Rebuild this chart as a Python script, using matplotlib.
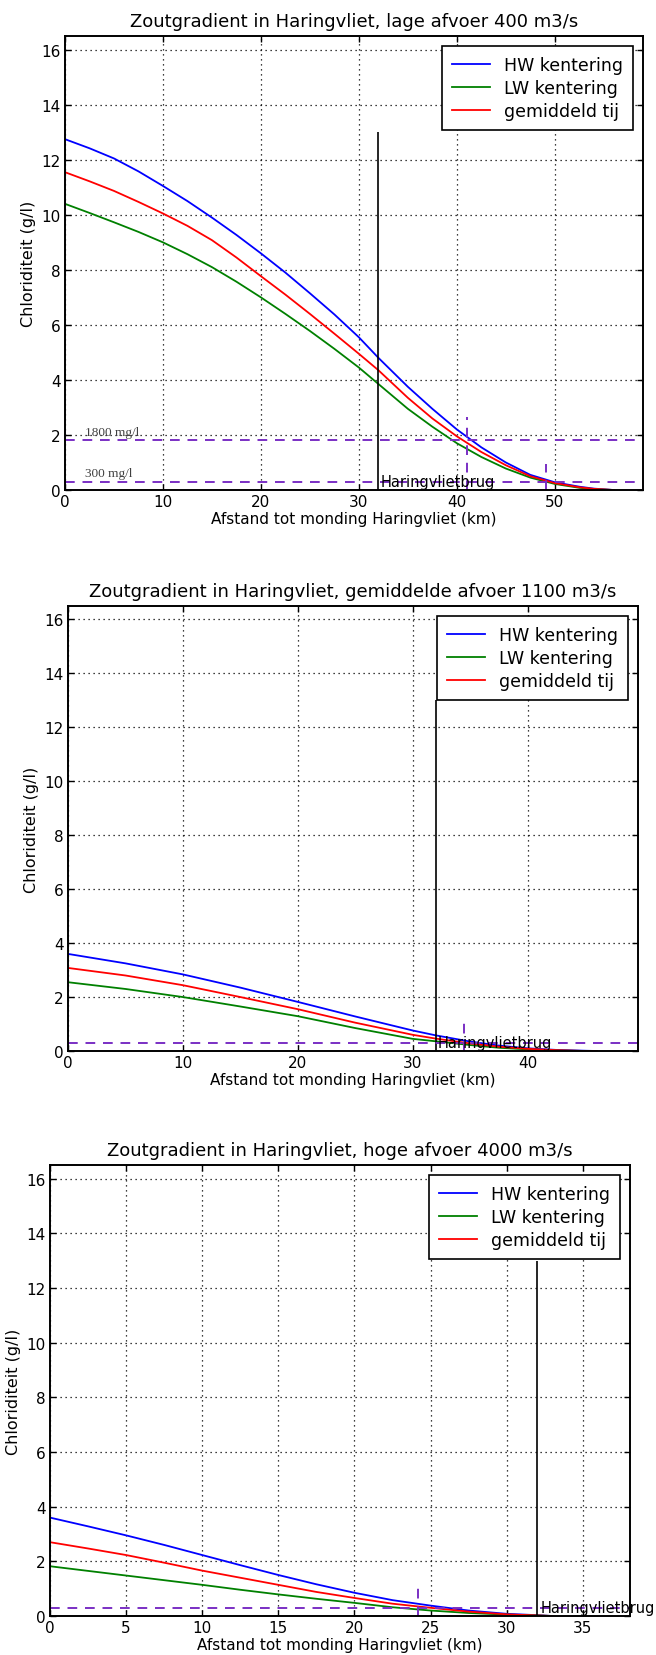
import matplotlib

matplotlib.use("Agg")
import matplotlib.pyplot as plt

# --- data ------------------------------------------------------------------
LABELS = ["HW kentering", "LW kentering", "gemiddeld tij"]
COLORS = ["#0000ff", "#008000", "#ff0000"]

TITLE_LOW = "Zoutgradient in Haringvliet, lage afvoer 400 m3/s"
X_LOW = [0, 2.5, 5, 7.5, 10, 12.5, 15, 17.5, 20, 22.5, 25, 27.5, 30, 32, 35,
         37.5, 40, 42.5, 45, 47.5, 50, 52.5, 54, 56]
HW_LOW = [12.75, 12.42, 12.05, 11.58, 11.05, 10.5, 9.9, 9.27, 8.6, 7.9, 7.15, 6.38,
          5.55, 4.8, 3.75, 2.95, 2.2, 1.55, 1.0, 0.55, 0.28, 0.12, 0.05, 0.0]
LW_LOW = [10.4, 10.07, 9.73, 9.38, 9.0, 8.57, 8.1, 7.57, 7.0, 6.4, 5.78, 5.13,
          4.45, 3.85, 2.95, 2.3, 1.7, 1.2, 0.78, 0.45, 0.22, 0.08, 0.03, 0.0]
GT_LOW = [11.55, 11.22, 10.87, 10.47, 10.05, 9.6, 9.08, 8.45, 7.77, 7.1, 6.4, 5.68,
          4.95, 4.35, 3.35, 2.6, 1.95, 1.38, 0.9, 0.5, 0.25, 0.1, 0.04, 0.0]

TITLE_MID = "Zoutgradient in Haringvliet, gemiddelde afvoer 1100 m3/s"
X_MID = [0, 5, 10, 15, 20, 25, 30, 32, 35, 37.5, 40, 42.5, 45, 46]
HW_MID = [3.6, 3.25, 2.84, 2.35, 1.82, 1.28, 0.76, 0.58, 0.35, 0.2, 0.1, 0.04, 0.01, 0.0]
LW_MID = [2.55, 2.3, 2.0, 1.65, 1.29, 0.85, 0.45, 0.36, 0.22, 0.12, 0.06, 0.02, 0.0, 0.0]
GT_MID = [3.08, 2.8, 2.44, 2.0, 1.55, 1.05, 0.6, 0.46, 0.28, 0.16, 0.08, 0.03, 0.0, 0.0]

TITLE_HIGH = "Zoutgradient in Haringvliet, hoge afvoer 4000 m3/s"
X_HIGH = [0, 2.5, 5, 7.5, 10, 12.5, 15, 17.5, 20, 22.5, 25, 27.5, 30, 32, 33]
HW_HIGH = [3.6, 3.28, 2.95, 2.6, 2.23, 1.86, 1.5, 1.16, 0.85, 0.58, 0.38, 0.2, 0.08, 0.03, 0.0]
LW_HIGH = [1.82, 1.65, 1.48, 1.31, 1.14, 0.96, 0.79, 0.63, 0.48, 0.32, 0.2, 0.11, 0.05, 0.02, 0.0]
GT_HIGH = [2.7, 2.47, 2.23, 1.95, 1.66, 1.4, 1.14, 0.88, 0.66, 0.45, 0.3, 0.16, 0.06, 0.02, 0.0]

BRIDGE_KM = 32.0
BRIDGE_TOP = 13.0
LIMITS_LOW = [1.8, 0.3]          # g/l, dashed purple
LIMIT_LABELS = ["1800 mg/l", "300 mg/l"]
MARKS_LOW = [(41.0, 2.65), (49.1, 0.95)]   # (km, top of short dashed marker)
MARKS_MID = [(34.5, 1.18)]
MARKS_HIGH = [(24.2, 1.14)]
XMAX = [59, 49.6, 38.1]
YMAX = 16.5

PURPLE = "#7a2fc4"
W, H = 656, 1656


def axes_box(left, right, top, bottom):
    return [left / W, 1 - bottom / H, (right - left) / W, (bottom - top) / H]


def draw_panel(ax, title, x, series, xmax, xticks, limits, marks):
    for y, lab, col in zip(series, LABELS, COLORS):
        ax.plot(x, y, color=col, linewidth=1.3, label=lab)
    ax.vlines(BRIDGE_KM, 0, BRIDGE_TOP, color="black", linewidth=1.2)
    for lim in limits:
        ax.axhline(lim, color=PURPLE, linestyle=(0, (5, 4)), linewidth=1.4)
    for km, top in marks:
        ax.vlines(km, 0, top, color=PURPLE, linestyle=(0, (5, 4)), linewidth=1.4)
    ax.text(BRIDGE_KM + 0.2, 0.02, "Haringvlietbrug", fontsize=10.5,
            va="bottom", ha="left", clip_on=False)

    ax.set_xlim(0, xmax)
    ax.set_ylim(0, YMAX)
    ax.set_xticks(xticks)
    ax.set_yticks(range(0, 17, 2))
    ax.grid(True, color="black", linestyle=(0, (1, 3)), linewidth=0.9)
    ax.tick_params(direction="in", top=True, right=True, labelsize=11,
                   length=4, width=1, pad=3)
    for sp in ax.spines.values():
        sp.set_linewidth(1.4)
    ax.set_title(title, fontsize=13, pad=7)
    ax.set_xlabel("Afstand tot monding Haringvliet (km)", fontsize=11, labelpad=1)
    ax.set_ylabel("Chloriditeit (g/l)", fontsize=11.5, labelpad=4)
    leg = ax.legend(loc="upper right", fontsize=12.5, fancybox=False,
                    framealpha=1, edgecolor="black", handlelength=2.2,
                    handletextpad=0.8, borderpad=0.55,
                    borderaxespad=0.6, labelspacing=0.3)
    leg.get_frame().set_linewidth(1.2)


fig = plt.figure(figsize=(W / 100, H / 100), dpi=100)

ax1 = fig.add_axes(axes_box(65, 643, 37, 491))
draw_panel(ax1, TITLE_LOW, X_LOW, [HW_LOW, LW_LOW, GT_LOW], XMAX[0],
           range(0, 60, 10), LIMITS_LOW, MARKS_LOW)
for lim, lab in zip(LIMITS_LOW, LIMIT_LABELS):
    ax1.text(2.0, lim + 0.1, lab, fontsize=9.5, color="#404040",
             family="Liberation Serif", va="bottom", ha="left")

ax2 = fig.add_axes(axes_box(68, 638, 607, 1052))
draw_panel(ax2, TITLE_MID, X_MID, [HW_MID, LW_MID, GT_MID], XMAX[1],
           range(0, 50, 10), LIMITS_LOW[1:], MARKS_MID)

ax3 = fig.add_axes(axes_box(50, 630, 1166, 1617))
draw_panel(ax3, TITLE_HIGH, X_HIGH, [HW_HIGH, LW_HIGH, GT_HIGH], XMAX[2],
           range(0, 40, 5), LIMITS_LOW[1:], MARKS_HIGH)

fig.savefig("out.png", dpi=100)
plt.close(fig)
